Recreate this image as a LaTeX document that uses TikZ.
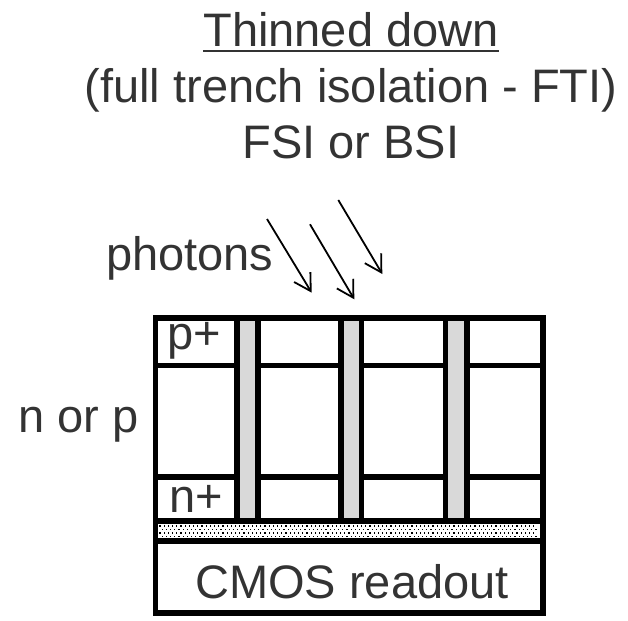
\documentclass[tikz,border=0pt]{standalone}
\usepackage{fontspec}
\setmainfont{Liberation Sans}
\usetikzlibrary{arrows.meta}
\definecolor{SensInk}{HTML}{000000}
\definecolor{SensText}{HTML}{333333}
\definecolor{SensTrench}{HTML}{D9D9D9}
\tikzset{
  every node/.style={font=\fontsize{47}{56}\selectfont, text=SensText, inner sep=0pt},
  wall/.style={draw=SensInk, line width=5.2pt},
  trench/.style={draw=SensInk, fill=SensTrench, line width=5.2pt},
  photon/.style={-{Straight Barb[angle=60:19pt]}, draw=SensInk, line width=1.8pt},
}
\begin{document}
\begin{tikzpicture}[x=1pt,y=-1pt]
  \useasboundingbox (0,0) rectangle (628,620);
  % heading, three lines
  \node[anchor=base] (title1) at (351,47) {Thinned down};
  \node[anchor=base] (title2) at (351,103) {(full trench isolation - FTI)};
  \node[anchor=base] (title3) at (351,159) {FSI or BSI};
  \draw[SensText, line width=2.3pt] ([yshift=-4pt]title1.base west) -- ([yshift=-4pt]title1.base east);
  % incoming light
  \node[anchor=base west] (photons) at (106,270) {photons};
  \coordinate (ray1s) at (267,219);   \coordinate (ray1e) at (311.7,292.7);
  \coordinate (ray2s) at (310,224.3); \coordinate (ray2e) at (354.3,299.3);
  \coordinate (ray3s) at (338.3,200); \coordinate (ray3e) at (382.3,274);
  \draw[photon] (ray1s) -- (ray1e);
  \draw[photon] (ray2s) -- (ray2e);
  \draw[photon] (ray3s) -- (ray3e);
  % pixel array
  \draw[wall] (155.5,365.5) -- (543,365.5);
  \draw[wall] (155.5,477) -- (543,477);
  \foreach \xl/\xr in {237/258, 341/361.5, 445.5/467}
    \draw[trench] (\xl,318) rectangle (\xr,521);
  % bonding layer
  \foreach \r/\off in {0/0, 1/2.1, 2/0, 3/2.1}
    \foreach \x in {0,...,89}
      \fill[SensInk] ({160+\off+4.2*\x-0.6},{526+3.5*\r-0.6}) rectangle ++(1.2,1.2);
  \draw[wall] (155.5,521) -- (543,521);
  \draw[wall] (155.5,541) -- (543,541);
  \draw[wall] (155.5,318) rectangle (543,613);
  % layer names
  \node[anchor=base west] (pplus) at (167,349) {p+};
  \node[anchor=base west] (nplus) at (169,512) {n+};
  \node[anchor=base west] (bulk) at (18,432) {n or p};
  \node[anchor=base] (cmos) at (352,598) {CMOS readout};
\end{tikzpicture}
\end{document}
